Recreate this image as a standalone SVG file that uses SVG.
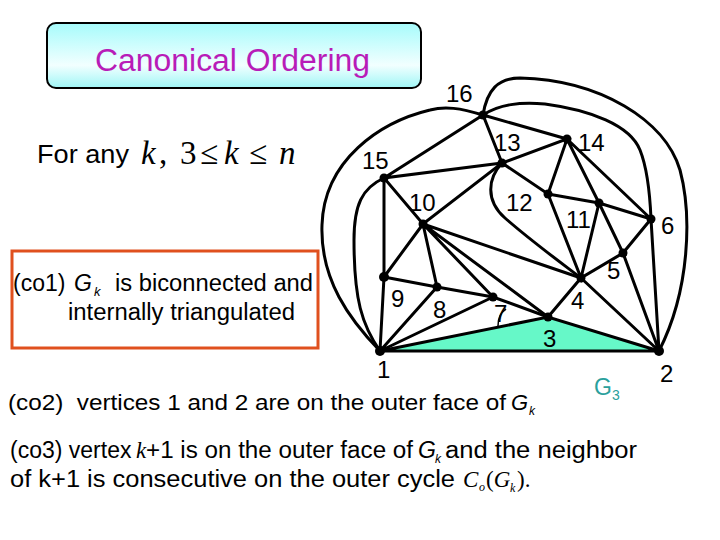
<svg xmlns="http://www.w3.org/2000/svg" width="720" height="540" viewBox="0 0 720 540">
<defs>
<linearGradient id="tg" x1="0" y1="0" x2="0" y2="1">
<stop offset="0" stop-color="#a6fbfb"/>
<stop offset="0.65" stop-color="#f2ffff"/>
<stop offset="1" stop-color="#9ff6f6"/>
</linearGradient>
</defs>
<style>
.e{stroke:#000;stroke-width:3;fill:none;stroke-linecap:round}
.t{font-family:"Liberation Sans",Arial,sans-serif;fill:#000}
.n{font-family:"Liberation Sans",Arial,sans-serif;font-size:24px;fill:#000}
.m{font-family:"Liberation Serif","Times New Roman",serif;font-style:italic}
.i{font-style:italic}
.v{fill:#000}
</style>
<rect width="720" height="540" fill="#fff"/>
<g id="title">
<rect x="47" y="23" width="374" height="65" rx="9" fill="url(#tg)" stroke="#000" stroke-width="2"/>
<text x="95" y="71" class="t" font-size="31" textLength="275" lengthAdjust="spacingAndGlyphs" style="fill:#b81cb8">Canonical Ordering</text>
</g>
<g id="forany">
<text x="37" y="163" class="t" font-size="25" textLength="92" lengthAdjust="spacingAndGlyphs">For any</text>
<text y="164" font-size="33" font-family="Liberation Serif,serif"><tspan x="141" class="m">k</tspan><tspan x="159">,</tspan><tspan x="180">3</tspan><tspan x="200">≤</tspan><tspan x="224" class="m">k</tspan><tspan x="249">≤</tspan><tspan x="279" class="m">n</tspan></text>
</g>
<g id="co1">
<rect x="12" y="251" width="306" height="97" fill="none" stroke="#e0501e" stroke-width="3"/>
<text y="291" class="t" font-size="23"><tspan x="13">(co1) </tspan><tspan x="74" class="i">G</tspan><tspan x="94" font-size="13" dy="5" class="i">k</tspan><tspan x="115" dy="-5" textLength="198" lengthAdjust="spacingAndGlyphs">is biconnected and</tspan></text>
<text x="68" y="320" class="t" font-size="23" textLength="227" lengthAdjust="spacingAndGlyphs">internally triangulated</text>
</g>
<g id="green">
<polygon points="380,351 548,317 659,351" fill="#66f8c8"/>
</g>
<g id="connectors">
<path class="e" d="M380,351 L659,351 M380,351 L548,317 L659,351"/>
<path class="e" d="M384,178 L384,277 L380,351 M380,351 L437,287 M380,351 L493,297"/>
<path class="e" d="M384,277 L437,287 L493,297 L548,317"/>
<path class="e" d="M384,178 L483,115 L502,163 L384,178 L423,224 L502,163 L567,139 L483,115"/>
<path class="e" d="M423,224 L384,277 M423,224 L437,287 M423,224 L493,297 M423,224 L548,317 M423,224 L581,278"/>
<path class="e" d="M502,163 L548,194 L567,139 L599,203 L623,253 M548,194 L599,203 L651,219 L567,139"/>
<path class="e" d="M548,194 L581,278 L599,203 M548,317 L581,278 L623,253 L651,219 L659,351 M581,278 L659,351 M623,253 L659,351"/>
<path class="e" d="M483,115 C460,108 445,106 430,110 C380,122 324,160 322,225 C320,280 350,320 380,351"/>
<path class="e" d="M384,178 C362,188 354,205 354,240 C354,300 362,325 380,351"/>
<path class="e" d="M483,115 C487,90 498,78 520,78 C600,80 665,120 680,170 C692,215 690,290 659,351"/>
<path class="e" d="M483,115 C500,104 520,102 545,104 C590,110 630,125 640,150 C648,170 650,195 651,219"/>
<path class="e" d="M502,163 C488,178 485,200 505,218 C530,240 560,262 581,278"/>
<path d="M498,326 Q498,314 506,309" stroke="#000" stroke-width="1.5" fill="none"/>
</g>
<g id="nodes">
<circle class="v" cx="483" cy="115" r="4.5"/>
<circle class="v" cx="567" cy="139" r="4.5"/>
<circle class="v" cx="502" cy="163" r="4.5"/>
<circle class="v" cx="384" cy="178" r="4.5"/>
<circle class="v" cx="548" cy="194" r="4.5"/>
<circle class="v" cx="599" cy="203" r="4.5"/>
<circle class="v" cx="651" cy="219" r="4.5"/>
<circle class="v" cx="423" cy="224" r="4.5"/>
<circle class="v" cx="623" cy="253" r="4.5"/>
<circle class="v" cx="581" cy="278" r="4.5"/>
<circle class="v" cx="384" cy="277" r="5"/>
<circle class="v" cx="437" cy="287" r="4.5"/>
<circle class="v" cx="493" cy="297" r="4.5"/>
<circle class="v" cx="548" cy="317" r="4.5"/>
<circle class="v" cx="380" cy="351" r="5"/>
<circle class="v" cx="659" cy="351" r="5"/>
</g>
<g id="labels">
<text class="n" x="446" y="102">16</text>
<text class="n" x="494" y="151">13</text>
<text class="n" x="578" y="151">14</text>
<text class="n" x="362" y="169">15</text>
<text class="n" x="409" y="211">10</text>
<text class="n" x="506" y="211">12</text>
<text class="n" x="566" y="228">11</text>
<text class="n" x="661" y="234">6</text>
<text class="n" x="607" y="279">5</text>
<text class="n" x="571" y="309">4</text>
<text class="n" x="391" y="307">9</text>
<text class="n" x="433" y="318">8</text>
<text class="n" x="494" y="322">7</text>
<text class="n" x="543" y="347">3</text>
<text class="n" x="377" y="378">1</text>
<text class="n" x="660" y="382">2</text>
<text x="594" y="395" class="t" font-size="23" style="fill:#2aa09c">G<tspan font-size="14" dy="5">3</tspan></text>
</g>
<g id="co2">
<text y="410" class="t" font-size="22"><tspan x="8" textLength="498" lengthAdjust="spacingAndGlyphs">(co2)&#160; vertices 1 and 2 are on the outer face of</tspan><tspan x="511" class="i">G</tspan><tspan x="529" dy="5" font-size="12" class="i">k</tspan></text>
</g>
<g id="co3">
<text y="458" class="t" font-size="23"><tspan x="10">(co3) vertex</tspan><tspan x="136" class="m">k</tspan><tspan x="146" textLength="267" lengthAdjust="spacingAndGlyphs">+1 is on the outer face of</tspan><tspan x="418" class="i">G</tspan><tspan x="435" dy="5" font-size="12" class="i">k</tspan><tspan x="445" dy="-5" textLength="192" lengthAdjust="spacingAndGlyphs">and the neighbor</tspan></text>
<text y="487" class="t" font-size="23"><tspan x="10" textLength="445" lengthAdjust="spacingAndGlyphs">of k+1 is consecutive on the outer cycle</tspan><tspan x="463" class="m">C</tspan><tspan x="479" dy="4" font-size="12" class="m">o</tspan><tspan x="486" dy="-4" font-family="Liberation Serif,serif">(</tspan><tspan class="m">G</tspan><tspan x="510" dy="5" font-size="12" class="m">k</tspan><tspan x="517" dy="-5" font-family="Liberation Serif,serif">).</tspan></text>
</g>
</svg>
